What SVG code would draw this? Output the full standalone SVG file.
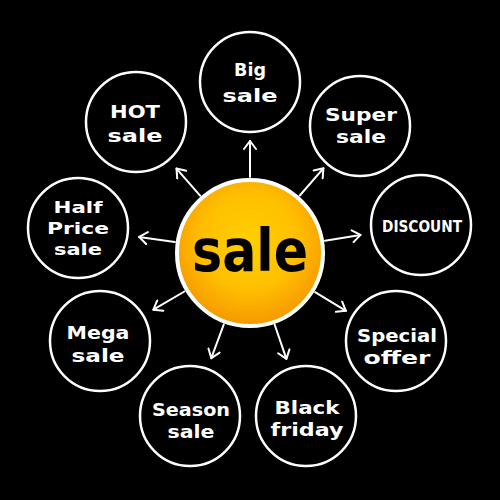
<svg xmlns="http://www.w3.org/2000/svg" width="500" height="500" viewBox="0 0 500 500">
<defs>
<radialGradient id="sun" cx="50%" cy="42%" r="60%">
<stop offset="0" stop-color="#ffd000"/>
<stop offset="0.55" stop-color="#ffbf00"/>
<stop offset="1" stop-color="#f59400"/>
</radialGradient>
<marker id="arr" markerUnits="userSpaceOnUse" markerWidth="14" markerHeight="14" refX="11" refY="7" orient="auto">
<path d="M3,1 L11,7 L3,13" fill="none" stroke="#fff" stroke-width="2" stroke-linecap="round" stroke-linejoin="round"/>
</marker>
<style>
.n{fill:#000;stroke:#fff;stroke-width:2.5}
.t{fill:#fff;font-family:"DejaVu Sans","Liberation Sans",sans-serif;font-weight:bold;font-size:17px;text-anchor:middle}
.s{font-size:16px}
.c line{stroke:#fff;stroke-width:2;stroke-linecap:round;marker-end:url(#arr)}
</style>
</defs>
<rect width="500" height="500" fill="#000"/>
<g class="c" id="connectors">
<line x1="250" y1="177" x2="250" y2="141"/>
<line x1="200.1" y1="195.7" x2="176.5" y2="168.6"/>
<line x1="299.8" y1="195.5" x2="323.4" y2="168.3"/>
<line x1="174.8" y1="242.1" x2="139.1" y2="236.9"/>
<line x1="325" y1="240.7" x2="360.5" y2="234.9"/>
<line x1="184.4" y1="291.5" x2="153.4" y2="309.7"/>
<line x1="315.1" y1="292.2" x2="345.9" y2="310.8"/>
<line x1="223.8" y1="324.3" x2="211.3" y2="358.1"/>
<line x1="274.7" y1="324.8" x2="286.4" y2="358.9"/>
</g>
<g id="center">
<circle cx="250" cy="253" r="73" fill="url(#sun)" stroke="#fff" stroke-width="4"/>
<text x="250" y="271" fill="#000" font-family="'DejaVu Sans','Liberation Sans',sans-serif" font-weight="bold" font-size="58" text-anchor="middle" textLength="116" lengthAdjust="spacingAndGlyphs">sale</text>
</g>
<g id="big">
<circle class="n" cx="250" cy="82" r="50"/>
<text class="t" x="250" y="76" textLength="32" lengthAdjust="spacingAndGlyphs">Big</text>
<text class="t" x="250" y="102" textLength="55" lengthAdjust="spacingAndGlyphs">sale</text>
</g>
<g id="hot">
<circle class="n" cx="136" cy="122" r="50"/>
<text class="t" x="135" y="118" textLength="50" lengthAdjust="spacingAndGlyphs">HOT</text>
<text class="t" x="135" y="142" textLength="55" lengthAdjust="spacingAndGlyphs">sale</text>
</g>
<g id="super">
<circle class="n" cx="360" cy="126" r="50"/>
<text class="t" x="361" y="121" textLength="72" lengthAdjust="spacingAndGlyphs">Super</text>
<text class="t" x="361" y="143" textLength="50" lengthAdjust="spacingAndGlyphs">sale</text>
</g>
<g id="half">
<circle class="n" cx="78" cy="228" r="50"/>
<text class="t s" x="78" y="213" textLength="49" lengthAdjust="spacingAndGlyphs">Half</text>
<text class="t s" x="78" y="234" textLength="62" lengthAdjust="spacingAndGlyphs">Price</text>
<text class="t s" x="78" y="255" textLength="48" lengthAdjust="spacingAndGlyphs">sale</text>
</g>
<g id="discount">
<circle class="n" cx="421" cy="225" r="50"/>
<text class="t s" x="422" y="232" textLength="80" lengthAdjust="spacingAndGlyphs">DISCOUNT</text>
</g>
<g id="mega">
<circle class="n" cx="100" cy="341" r="50"/>
<text class="t" x="98" y="339" textLength="63" lengthAdjust="spacingAndGlyphs">Mega</text>
<text class="t" x="98" y="362" textLength="53" lengthAdjust="spacingAndGlyphs">sale</text>
</g>
<g id="special">
<circle class="n" cx="396" cy="341" r="50"/>
<text class="t" x="397" y="342" textLength="80" lengthAdjust="spacingAndGlyphs">Special</text>
<text class="t" x="397" y="364" textLength="67" lengthAdjust="spacingAndGlyphs">offer</text>
</g>
<g id="season">
<circle class="n" cx="190" cy="416" r="50"/>
<text class="t" x="191" y="416" textLength="78" lengthAdjust="spacingAndGlyphs">Season</text>
<text class="t" x="191" y="438" textLength="47" lengthAdjust="spacingAndGlyphs">sale</text>
</g>
<g id="black">
<circle class="n" cx="306" cy="416" r="50"/>
<text class="t" x="307" y="414" textLength="65" lengthAdjust="spacingAndGlyphs">Black</text>
<text class="t" x="307" y="436" textLength="73" lengthAdjust="spacingAndGlyphs">friday</text>
</g>
</svg>
